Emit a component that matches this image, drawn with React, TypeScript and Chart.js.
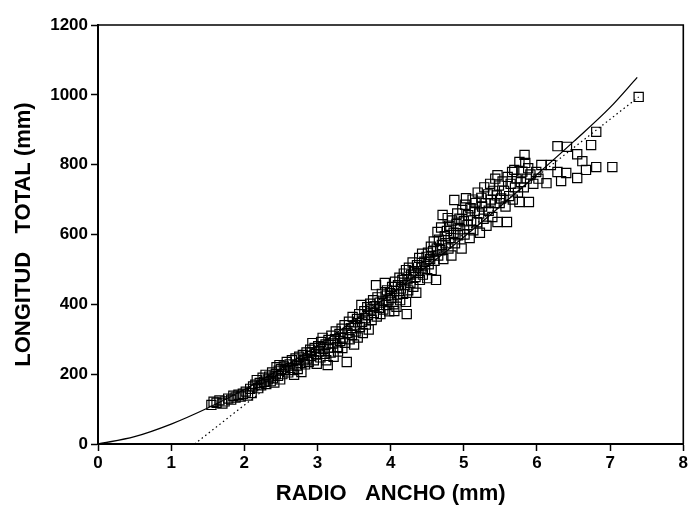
import React, { useEffect, useRef } from "react";
import { Chart, registerables } from "chart.js";

Chart.register(...registerables);

// Scatter sample: radio ancho (mm) vs longitud total (mm)
const radioAncho = [
  1.55, 1.58, 1.62, 1.66, 1.70, 1.73, 1.78, 1.82, 1.85, 1.88,
  1.92, 1.95, 1.98, 2.02, 2.05, 2.08, 2.10, 2.12, 2.15, 2.17,
  2.19, 2.21, 2.23, 2.25, 2.27, 2.29, 2.30, 2.32, 2.34, 2.36,
  2.38, 2.39, 2.41, 2.43, 2.44, 2.46, 2.47, 2.48, 2.49, 2.50,
  2.52, 2.54, 2.56, 2.58, 2.60, 2.62, 2.63, 2.65, 2.67, 2.68,
  2.70, 2.72, 2.73, 2.75, 2.77, 2.78, 2.80, 2.81, 2.83, 2.85,
  2.86, 2.88, 2.90, 2.91, 2.92, 2.93, 2.95, 2.96, 2.98, 2.99,
  3.01, 3.02, 3.04, 3.05, 3.07, 3.08, 3.10, 3.11, 3.12, 3.14,
  3.15, 3.16, 3.18, 3.19, 3.21, 3.22, 3.24, 3.25, 3.27, 3.28,
  3.30, 3.31, 3.33, 3.34, 3.35, 3.37, 3.38, 3.40, 3.41, 3.43,
  3.44, 3.46, 3.47, 3.48, 3.50, 3.51, 3.52, 3.54, 3.55, 3.57,
  3.58, 3.60, 3.61, 3.62, 3.64, 3.65, 3.66, 3.68, 3.69, 3.70,
  3.72, 3.73, 3.74, 3.76, 3.77, 3.78, 3.80, 3.81, 3.82, 3.84,
  3.85, 3.86, 3.88, 3.89, 3.90, 3.92, 3.93, 3.94, 3.95, 3.97,
  3.98, 3.99, 4.01, 4.02, 4.04, 4.05, 4.05, 4.06, 4.08, 4.09,
  4.10, 4.12, 4.13, 4.14, 4.16, 4.17, 4.18, 4.20, 4.21, 4.21,
  4.22, 4.23, 4.24, 4.25, 4.27, 4.28, 4.30, 4.31, 4.32, 4.34,
  4.35, 4.36, 4.38, 4.39, 4.40, 4.42, 4.43, 4.44, 4.46, 4.47,
  4.49, 4.50, 4.51, 4.52, 4.54, 4.55, 4.56, 4.58, 4.59, 4.60,
  4.62, 4.63, 4.64, 4.65, 4.66, 4.68, 4.69, 4.70, 4.71, 4.72,
  4.74, 4.75, 4.77, 4.78, 4.79, 4.80, 4.82, 4.83, 4.84, 4.86,
  4.87, 4.88, 4.90, 4.91, 4.92, 4.94, 4.95, 4.97, 4.98, 5.00,
  5.01, 5.02, 5.03, 5.05, 5.06, 5.08, 5.09, 5.10, 5.12, 5.13,
  5.15, 5.16, 5.18, 5.19, 5.21, 5.22, 5.24, 5.25, 5.27, 5.28,
  5.30, 5.31, 5.33, 5.34, 5.36, 5.37, 5.39, 5.40, 5.42, 5.43,
  5.45, 5.46, 5.46, 5.48, 5.49, 5.51, 5.53, 5.55, 5.57, 5.59,
  5.60, 5.62, 5.64, 5.66, 5.67, 5.69, 5.70, 5.72, 5.74, 5.76,
  5.76, 5.78, 5.80, 5.82, 5.83, 5.84, 5.86, 5.88, 5.89, 5.91,
  5.95, 5.99, 6.02, 6.06, 6.13, 6.19, 6.28, 6.28, 6.33, 6.40,
  6.41, 6.55, 6.55, 6.62, 6.67, 6.74, 6.81, 6.81, 7.03, 7.39,
];

const longitudTotal = [
  112, 121, 118, 125, 116, 122, 130, 127, 138, 133,
  141, 136, 144, 150, 139, 158, 146, 165, 170, 183,
  160, 175, 168, 190, 178, 198, 172, 185, 193, 180,
  205, 188, 176, 200, 220, 195, 210, 226, 185, 215,
  200, 222, 212, 235, 205, 228, 218, 240, 212, 198,
  245, 225, 215, 250, 232, 206, 255, 240, 228, 262,
  245, 235, 270, 252, 263, 289, 240, 275, 258, 230,
  280, 265, 248, 292, 304, 272, 258, 285, 240, 226,
  298, 276, 262, 310, 288, 250, 300, 322, 278, 265,
  315, 295, 330, 275, 305, 340, 290, 235, 318, 350,
  300, 332, 312, 364, 285, 340, 322, 358, 305, 372,
  335, 398, 350, 318, 380, 360, 342, 392, 370, 328,
  402, 385, 355, 412, 375, 395, 455, 365, 420, 390,
  405, 372, 430, 410, 385, 461, 425, 398, 440, 412,
  380, 432, 418, 450, 400, 438, 381, 465, 393, 428,
  455, 476, 412, 445, 470, 430, 488, 455, 498, 407,
  372, 472, 440, 505, 462, 485, 520, 450, 495, 478,
  433, 512, 490, 533, 470, 505, 545, 485, 522, 500,
  536, 475, 548, 515, 530, 565, 498, 552, 580, 525,
  470, 560, 607, 540, 585, 555, 620, 570, 656, 530,
  595, 575, 610, 647, 560, 625, 590, 540, 640, 605,
  699, 575, 630, 660, 598, 645, 615, 560, 670, 638,
  600, 685, 704, 627, 655, 590, 675, 640, 700, 612,
  668, 690, 635, 720, 660, 605, 705, 680, 645, 735,
  690, 625, 715, 668, 745, 700, 650, 725, 690, 760,
  712, 636, 770, 740, 690, 703, 752, 725, 680, 636,
  765, 710, 745, 779, 700, 785, 735, 760, 720, 808,
  693, 750, 780, 735, 828, 805, 760, 790, 693, 772,
  745, 779, 760, 799, 747, 799, 853, 779, 753, 776,
  851, 830, 762, 810, 785, 856, 894, 793, 793, 994,
];

// Solid fitted curve
const curvaX = [0, 0.5, 1, 1.5, 2, 2.5, 3, 3.5, 4, 4.5, 5, 5.5, 6, 6.5, 7, 7.37];
const curvaY = [0, 21, 57, 103, 156, 216, 282, 353, 429, 509, 593, 681, 772, 866, 964, 1050];

// Dotted straight line
const rectaX = [1.32, 7.39];
const rectaY = [0, 994];

const xTicks = [0, 1, 2, 3, 4, 5, 6, 7, 8];
const yTicks = [0, 200, 400, 600, 800, 1000, 1200];

const FONT = "'Liberation Sans', Arial, Helvetica, sans-serif";

const frame = {
  id: "frame",
  afterDatasetsDraw(chart: any) {
    const { ctx, chartArea } = chart;
    ctx.save();
    ctx.strokeStyle = "#000";
    ctx.lineWidth = 1.6;
    ctx.beginPath();
    ctx.moveTo(chartArea.left, chartArea.top);
    ctx.lineTo(chartArea.right, chartArea.top);
    ctx.lineTo(chartArea.right, chartArea.bottom);
    ctx.stroke();
    ctx.restore();
  },
};

export default function App() {
  const ref = useRef<HTMLCanvasElement>(null);

  useEffect(() => {
    if (!ref.current) return;
    const puntos = radioAncho.map((x, i) => ({ x, y: longitudTotal[i] }));
    const curva = curvaX.map((x, i) => ({ x, y: curvaY[i] }));
    const recta = rectaX.map((x, i) => ({ x, y: rectaY[i] }));

    const chart = new Chart(ref.current, {
      type: "scatter",
      data: {
        datasets: [
          {
            data: curva,
            showLine: true,
            borderColor: "#000",
            borderWidth: 1.3,
            pointRadius: 0,
            tension: 0.4,
            cubicInterpolationMode: "monotone",
          } as any,
          {
            data: recta,
            showLine: true,
            borderColor: "#000",
            borderWidth: 1.2,
            borderDash: [1.5, 3],
            pointRadius: 0,
          } as any,
          {
            data: puntos,
            pointStyle: "rect",
            pointRadius: 6.5,
            pointBorderWidth: 1.2,
            borderColor: "#000",
            backgroundColor: "rgba(0,0,0,0)",
            pointBackgroundColor: "rgba(0,0,0,0)",
          } as any,
        ],
      },
      options: {
        animation: false,
        responsive: false,
        maintainAspectRatio: false,
        layout: { padding: { top: 25, right: 7, bottom: 0, left: 0 } },
        plugins: { legend: { display: false }, tooltip: { enabled: false } },
        scales: {
          x: {
            type: "linear",
            min: 0,
            max: 8,
            afterFit: (s: any) => {
              s.height = 64;
            },
            afterBuildTicks: (s: any) => {
              s.ticks = xTicks.map((v) => ({ value: v }));
            },
            ticks: {
              color: "#000",
              font: { family: FONT, size: 17, weight: "bold" },
              padding: 2,
              maxRotation: 0,
              callback: (v: any) => String(v),
            },
            grid: {
              drawOnChartArea: false,
              drawTicks: true,
              tickLength: 7,
              tickColor: "#000",
              tickWidth: 1.5,
            },
            border: { display: true, color: "#000", width: 2 },
            title: {
              display: true,
              text: "RADIO   ANCHO (mm)",
              color: "#000",
              font: { family: FONT, size: 22, weight: "bold" },
              padding: { top: 0, bottom: 1 },
            },
          },
          y: {
            type: "linear",
            min: 0,
            max: 1200,
            afterFit: (s: any) => {
              s.width = 98;
            },
            afterBuildTicks: (s: any) => {
              s.ticks = yTicks.map((v) => ({ value: v }));
            },
            ticks: {
              color: "#000",
              font: { family: FONT, size: 17, weight: "bold" },
              padding: 3,
              callback: (v: any) => String(v),
            },
            grid: {
              drawOnChartArea: false,
              drawTicks: true,
              tickLength: 7,
              tickColor: "#000",
              tickWidth: 1.5,
            },
            border: { display: true, color: "#000", width: 2 },
            title: {
              display: true,
              text: "LONGITUD   TOTAL (mm)",
              color: "#000",
              font: { family: FONT, size: 22, weight: "bold" },
              padding: { top: 11, bottom: 0 },
            },
          },
        },
      },
      plugins: [frame],
    });
    return () => chart.destroy();
  }, []);

  return (
    <div style={{ position: "fixed", left: 0, top: 0, width: 691, height: 508, background: "#fff" }}>
      <canvas ref={ref} width={691} height={508} style={{ display: "block" }} />
    </div>
  );
}
